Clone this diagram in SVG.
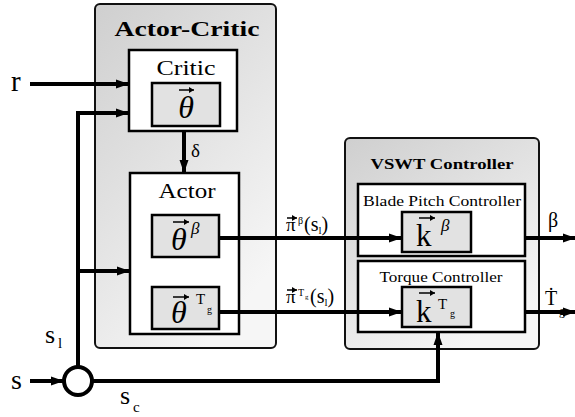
<svg xmlns="http://www.w3.org/2000/svg" width="575" height="417" viewBox="0 0 575 417" font-family="'Liberation Serif', 'DejaVu Serif', serif">
<defs>
<linearGradient id="gbg" x1="0" y1="0" x2="0.6" y2="1">
<stop offset="0" stop-color="#cfcfcf"/>
<stop offset="1" stop-color="#f6f6f6"/>
</linearGradient>
<marker id="ah" markerUnits="userSpaceOnUse" markerWidth="14" markerHeight="10" refX="13" refY="5" orient="auto">
<path d="M0,0.5 L13,5 L0,9.5 z" fill="#000"/>
</marker>
<marker id="vh" markerUnits="userSpaceOnUse" markerWidth="6" markerHeight="6" refX="5" refY="3" orient="auto">
<path d="M0,0 L5,3 L0,6 z" fill="#000"/>
</marker>
</defs>
<style>
.outer{fill:url(#gbg);stroke:#111;stroke-width:2}
.box{fill:#fff;stroke:#000;stroke-width:2.5}
.inner{fill:#e2e2e2;stroke:#000;stroke-width:2.5}
.title{font-weight:bold;text-anchor:middle}
.lbl{text-anchor:middle}
.conn{fill:none;stroke:#000;stroke-width:4}
.vec{fill:none;stroke:#000;stroke-width:1.5;marker-end:url(#vh)}
.it{font-style:italic}
</style>

<g id="actor-critic">
<rect class="outer" x="95" y="4" width="181" height="344" rx="5"/>
<text class="title" x="187" y="36" font-size="21" textLength="145" lengthAdjust="spacingAndGlyphs">Actor-Critic</text>
</g>

<g id="critic">
<rect class="box" x="129" y="50" width="108" height="81"/>
<text class="lbl" x="186" y="75" font-size="22" textLength="59" lengthAdjust="spacingAndGlyphs">Critic</text>
<rect class="inner" x="152" y="83" width="68" height="43"/>
<text class="lbl it" x="186" y="118" font-size="32">θ</text>
<path class="vec" d="M179,90 H194"/>
</g>

<g id="actor">
<rect class="box" x="130" y="173" width="109" height="161"/>
<text class="lbl" x="187" y="198" font-size="22" textLength="57" lengthAdjust="spacingAndGlyphs">Actor</text>
</g>

<g id="theta-beta">
<rect class="inner" x="152" y="215" width="67" height="42"/>
<text class="it" x="171" y="250" font-size="32">θ</text>
<path class="vec" d="M173,222 H189"/>
<text class="it" x="191" y="234" font-size="17">β</text>
</g>

<g id="theta-tg">
<rect class="inner" x="152" y="287" width="67" height="42"/>
<text class="it" x="171" y="323" font-size="32">θ</text>
<path class="vec" d="M173,297 H189"/>
<text x="196" y="304" font-size="15">T</text>
<text x="207" y="313" font-size="10">g</text>
</g>

<g id="vswt-controller">
<rect class="outer" x="345" y="138" width="194" height="211" rx="5"/>
<text class="title" x="442" y="169" font-size="15" textLength="143" lengthAdjust="spacingAndGlyphs">VSWT Controller</text>
</g>

<g id="blade-pitch-controller">
<rect class="box" x="358" y="184" width="167" height="72"/>
<text class="lbl" x="442" y="206" font-size="14.5" textLength="158" lengthAdjust="spacingAndGlyphs">Blade Pitch Controller</text>
<rect class="inner" x="402" y="212" width="69" height="40"/>
<text x="416" y="246" font-size="31">k</text>
<path class="vec" d="M419,218 H435"/>
<text class="it" x="441" y="231" font-size="17">β</text>
</g>

<g id="torque-controller">
<rect class="box" x="358" y="261" width="167" height="71"/>
<text class="lbl" x="441" y="282" font-size="14.5" textLength="123" lengthAdjust="spacingAndGlyphs">Torque Controller</text>
<rect class="inner" x="402" y="287" width="69" height="40"/>
<text x="416" y="322" font-size="31">k</text>
<path class="vec" d="M419,293 H435"/>
<text x="438" y="309" font-size="15">T</text>
<text x="450" y="317" font-size="10">g</text>
</g>

<g id="splitter">
<circle cx="78" cy="381" r="14" fill="#fff" stroke="#000" stroke-width="4"/>
</g>

<g id="connectors">
<path class="conn" d="M30,84 H129" marker-end="url(#ah)"/>
<path class="conn" d="M78,367 V113 H129" marker-end="url(#ah)"/>
<path class="conn" d="M78,271 H130" marker-end="url(#ah)"/>
<path class="conn" d="M184,131 V173" marker-end="url(#ah)"/>
<path class="conn" d="M30,381 H64" marker-end="url(#ah)"/>
<path class="conn" d="M92,381 H438 V332" marker-end="url(#ah)"/>
<path class="conn" d="M219,238 H402" marker-end="url(#ah)"/>
<path class="conn" d="M219,312 H402" marker-end="url(#ah)"/>
<path class="conn" d="M525,238 H576" marker-end="url(#ah)"/>
<path class="conn" d="M525,312 H576" marker-end="url(#ah)"/>
</g>

<g id="labels">
<text x="11" y="91" font-size="29">r</text>
<text x="11" y="389" font-size="28">s</text>
<text x="45" y="343" font-size="26">s</text>
<text x="58" y="348" font-size="15">l</text>
<text x="120" y="404" font-size="26">s</text>
<text x="133" y="412" font-size="15">c</text>
<text x="191" y="157" font-size="19">δ</text>
<text x="286" y="231" font-size="19">π</text>
<path class="vec" d="M287,218 H297"/>
<text x="298" y="224" font-size="10">β</text>
<text x="304" y="231" font-size="20">(s<tspan font-size="11" dy="3">l</tspan><tspan dy="-3">)</tspan></text>
<text x="286" y="303" font-size="19">π</text>
<path class="vec" d="M287,290 H297"/>
<text x="298" y="296" font-size="10">T</text>
<text x="305" y="299" font-size="7">g</text>
<text x="310" y="303" font-size="20">(s<tspan font-size="11" dy="3">l</tspan><tspan dy="-3">)</tspan></text>
<text x="548" y="227" font-size="20">β</text>
<text x="545" y="305" font-size="20">Ṫ</text>
<text x="559" y="315" font-size="12">g</text>
</g>
</svg>
